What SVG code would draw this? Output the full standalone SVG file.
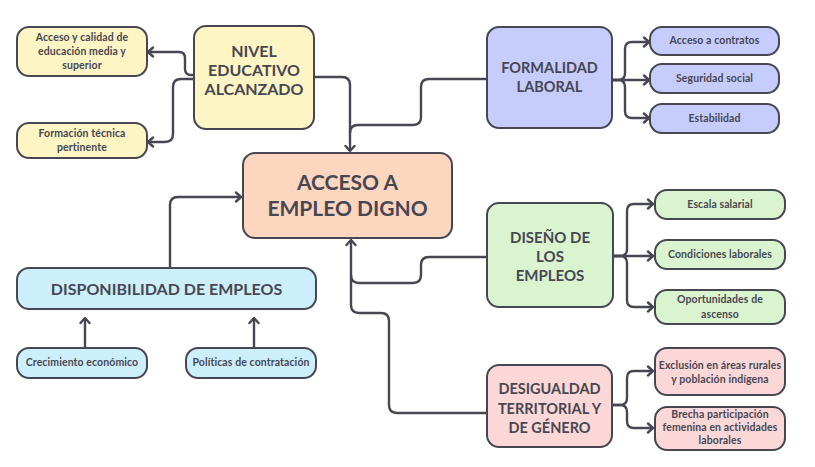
<svg xmlns="http://www.w3.org/2000/svg" width="815" height="467" viewBox="0 0 815 467">
<style>
.box{stroke:#474752;stroke-width:2}
.t{font-family:Lato,"Liberation Sans",sans-serif;font-weight:700;fill:#474752;text-anchor:middle}
.big{font-size:16px}
.mid{font-size:14.5px}
.main{font-size:21px}
.sm{font-size:10.5px;letter-spacing:0.1px}
.y{fill:#fdf5c4}.v{fill:#c6ccfc}.p{fill:#fdd6bf}.g{fill:#d9f4cf}.b{fill:#cdeffc}.r{fill:#fcd7d7}
.c{fill:none;stroke:#474752;stroke-width:2.4}
</style>
<defs>
<marker id="ah" markerUnits="userSpaceOnUse" markerWidth="12" markerHeight="12" refX="8" refY="6" orient="auto">
<path d="M3,1.5 L8,6 L3,10.5" fill="none" stroke="#474752" stroke-width="2.4" stroke-linecap="round" stroke-linejoin="round"/>
</marker>
</defs>
<rect width="815" height="467" fill="#fff"/>
<g id="connectors">
<path class="c" d="M313,77 H342 Q350,77 350,85 V151" marker-end="url(#ah)"/>
<path class="c" d="M487,79 H429 Q421,79 421,87 V117 Q421,125 413,125 H358 Q350,125 350,133"/>
<path class="c" d="M170,268 V205 Q170,197 178,197 H241" marker-end="url(#ah)"/>
<path class="c" d="M487,413 H397 Q389,413 389,405 V321 Q389,313 381,313 H359 Q351,313 351,305 V240" marker-end="url(#ah)"/>
<path class="c" d="M487,257 H429 Q421,257 421,265 V275 Q421,283 413,283 H359 Q351,283 351,275"/>
<path class="c" d="M85,348 V318" marker-end="url(#ah)"/>
<path class="c" d="M254,348 V318" marker-end="url(#ah)"/>
<path class="c" d="M194,75 H191 Q185,75 185,69 V58 Q185,52 179,52 H148" marker-end="url(#ah)"/>
<path class="c" d="M194,79 H181 Q173,79 173,87 V134 Q173,142 165,142 H148" marker-end="url(#ah)"/>
<path class="c" d="M612,80 H618 Q625,80 625,73 V49 Q625,42 632,42 H649" marker-end="url(#ah)"/>
<path class="c" d="M612,80 H649" marker-end="url(#ah)"/>
<path class="c" d="M612,80 H618 Q625,80 625,87 V111 Q625,118 632,118 H649" marker-end="url(#ah)"/>
<path class="c" d="M613,256 H620 Q627,256 627,249 V211 Q627,204 634,204 H653" marker-end="url(#ah)"/>
<path class="c" d="M613,256 H653" marker-end="url(#ah)"/>
<path class="c" d="M613,256 H620 Q627,256 627,263 V300 Q627,307 634,307 H653" marker-end="url(#ah)"/>
<path class="c" d="M612,405 H620 Q627,405 627,398 V378 Q627,371 634,371 H653" marker-end="url(#ah)"/>
<path class="c" d="M612,405 H620 Q627,405 627,412 V421 Q627,428 634,428 H653" marker-end="url(#ah)"/>
</g>
<g id="nivel"><rect class="box y" x="194" y="26" width="120" height="103" rx="12"/>
<text class="t big" x="254" y="57">NIVEL</text><text class="t big" x="254" y="76">EDUCATIVO</text><text class="t big" x="254" y="95">ALCANZADO</text></g>
<g id="acceso-calidad"><rect class="box y" x="17" y="27" width="130" height="49" rx="12"/>
<text class="t sm" x="82" y="41">Acceso y calidad de</text><text class="t sm" x="82" y="55">educación media y</text><text class="t sm" x="82" y="69">superior</text></g>
<g id="formacion"><rect class="box y" x="17" y="123" width="130" height="35" rx="12"/>
<text class="t sm" x="82" y="137">Formación técnica</text><text class="t sm" x="82" y="151">pertinente</text></g>
<g id="formalidad"><rect class="box v" x="487" y="27" width="125" height="101" rx="12"/>
<text class="t mid" x="549.5" y="73">FORMALIDAD</text><text class="t mid" x="549.5" y="92">LABORAL</text></g>
<g id="contratos"><rect class="box v" x="650" y="27" width="129" height="28" rx="12"/>
<text class="t sm" x="714.5" y="44">Acceso a contratos</text></g>
<g id="seguridad"><rect class="box v" x="650" y="64" width="129" height="29" rx="12"/>
<text class="t sm" x="714.5" y="82">Seguridad social</text></g>
<g id="estabilidad"><rect class="box v" x="650" y="104" width="129" height="29" rx="12"/>
<text class="t sm" x="714.5" y="122">Estabilidad</text></g>
<g id="acceso-empleo"><rect class="box p" x="243" y="153" width="209" height="85" rx="12"/>
<text class="t main" x="347.5" y="190">ACCESO A</text><text class="t main" x="347.5" y="216">EMPLEO DIGNO</text></g>
<g id="diseno"><rect class="box g" x="487" y="203" width="126" height="104" rx="12"/>
<text class="t" style="font-size:15px" x="550" y="243">DISEÑO DE</text><text class="t" style="font-size:15px" x="550" y="262">LOS</text><text class="t" style="font-size:15px" x="550" y="281">EMPLEOS</text></g>
<g id="escala"><rect class="box g" x="655" y="190" width="130" height="29" rx="12"/>
<text class="t sm" x="720" y="208">Escala salarial</text></g>
<g id="condiciones"><rect class="box g" x="655" y="240" width="130" height="29" rx="12"/>
<text class="t sm" x="720" y="258">Condiciones laborales</text></g>
<g id="oportunidades"><rect class="box g" x="655" y="290" width="130" height="34" rx="12"/>
<text class="t sm" x="720" y="303">Oportunidades de</text><text class="t sm" x="720" y="318">ascenso</text></g>
<g id="disponibilidad"><rect class="box b" x="17" y="268" width="299" height="41" rx="12"/>
<text class="t" style="font-size:16px" x="166.5" y="295">DISPONIBILIDAD DE EMPLEOS</text></g>
<g id="crecimiento"><rect class="box b" x="17" y="348" width="130" height="30" rx="12"/>
<text class="t sm" x="82" y="366">Crecimiento económico</text></g>
<g id="politicas"><rect class="box b" x="186" y="348" width="130" height="30" rx="12"/>
<text class="t sm" x="251" y="366">Políticas de contratación</text></g>
<g id="desigualdad"><rect class="box r" x="487" y="365" width="125" height="82" rx="12"/>
<text class="t mid" x="549.5" y="394">DESIGUALDAD</text><text class="t mid" x="549.5" y="414">TERRITORIAL Y</text><text class="t mid" x="549.5" y="433">DE GÉNERO</text></g>
<g id="exclusion"><rect class="box r" x="655" y="348" width="130" height="47" rx="12"/>
<text class="t sm" x="720" y="369">Exclusión en áreas rurales</text><text class="t sm" x="720" y="383">y población indígena</text></g>
<g id="brecha"><rect class="box r" x="655" y="407" width="130" height="43" rx="12"/>
<text class="t sm" x="720" y="418">Brecha participación</text><text class="t sm" x="720" y="431">femenina en actividades</text><text class="t sm" x="720" y="444">laborales</text></g>
</svg>
